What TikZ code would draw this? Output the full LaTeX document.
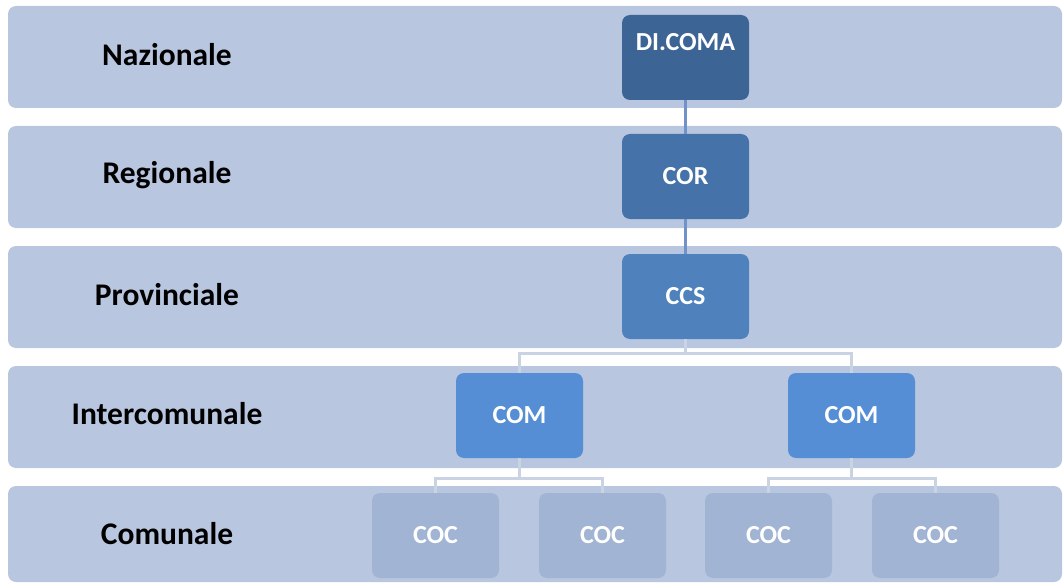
\documentclass[tikz,border=0pt]{standalone}
\usepackage{fontspec}
\setmainfont{Carlito}
\definecolor{bandfill}{HTML}{B9C6DF}
\definecolor{nazfill}{HTML}{3C6595}
\definecolor{regfill}{HTML}{4672AA}
\definecolor{provfill}{HTML}{4F81BD}
\definecolor{comfill}{HTML}{558ED5}
\definecolor{cocfill}{HTML}{A1B4D4}
\definecolor{linkdark}{HTML}{6F93C8}
\definecolor{linklight}{HTML}{C9D3E4}
\begin{document}
\begin{tikzpicture}[x=1pt,y=-1pt,
  band/.style={fill=bandfill,rounded corners=8pt},
  levellabel/.style={font=\fontsize{31.5}{36}\selectfont\bfseries,text=black,anchor=center},
  unit/.style={fill=#1,rounded corners=8pt,minimum width=127pt,minimum height=85pt,
    inner sep=0pt,font=\fontsize{26}{30}\selectfont\bfseries,text=white},
  link/.style={line width=3pt,draw=#1}]
\useasboundingbox (0,0) rectangle (1063,583);
% level bands
\fill[band] (8,6) rectangle (1062,108);
\fill[band] (8,126) rectangle (1062,228);
\fill[band] (8,246) rectangle (1062,348);
\fill[band] (8,366) rectangle (1062,468);
\fill[band] (8,486) rectangle (1062,582);
% level names
\node[levellabel] (lnaz) at (167,55) {Nazionale};
\node[levellabel] (lreg) at (167,175) {Regionale};
\node[levellabel] (lprov) at (167,295) {Provinciale};
\node[levellabel] (linter) at (167,414) {Intercomunale};
\node[levellabel] (lcom) at (167,534) {Comunale};
% operational units
\node[unit=nazfill,text depth=41pt,text height=27pt] (dicoma) at (685.5,57.5) {DI.COMA};
\node[unit=regfill] (cor) at (685.5,176.5) {COR};
\node[unit=provfill] (ccs) at (685.5,296.5) {CCS};
\node[unit=comfill] (com1) at (519.5,415.5) {COM};
\node[unit=comfill] (com2) at (851.5,415.5) {COM};
\node[unit=cocfill] (coc1) at (435.5,535.5) {COC};
\node[unit=cocfill] (coc2) at (602.5,535.5) {COC};
\node[unit=cocfill] (coc3) at (768.5,535.5) {COC};
\node[unit=cocfill] (coc4) at (935.5,535.5) {COC};
% hierarchy links
\draw[link=linkdark] (dicoma.south) -- (cor.north);
\draw[link=linkdark] (cor.south) -- (ccs.north);
\draw[link=linklight] (ccs.south) -- ++(0,14) coordinate (fork1) -| (com1.north);
\draw[link=linklight] (fork1) -| (com2.north);
\draw[link=linklight] (com1.south) -- ++(0,20) coordinate (fork2) -| (coc1.north);
\draw[link=linklight] (fork2) -| (coc2.north);
\draw[link=linklight] (com2.south) -- ++(0,20) coordinate (fork3) -| (coc3.north);
\draw[link=linklight] (fork3) -| (coc4.north);
\end{tikzpicture}
\end{document}
